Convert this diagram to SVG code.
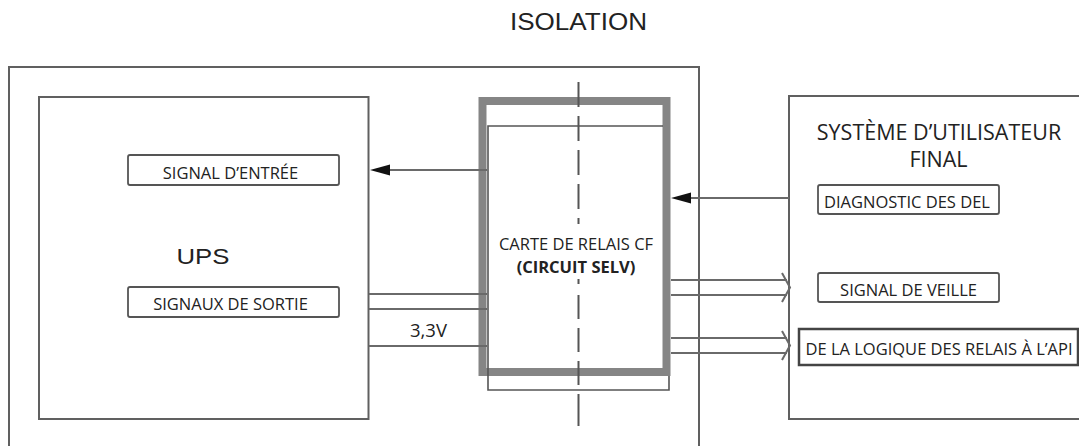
<svg xmlns="http://www.w3.org/2000/svg" width="1079" height="446" viewBox="0 0 1079 446">
<style>
.box{fill:none;stroke:#606060;stroke-width:2}
.lbl{fill:#fff;stroke:#555;stroke-width:1.8}
.t{font-family:"Open Sans","Noto Sans",sans-serif;font-size:16.5px;fill:#222;text-anchor:middle}
.big{font-size:21.5px}
.v{font-size:18.5px}
.b{font-weight:bold}
.a{font-family:"Liberation Sans",Arial,sans-serif;fill:#222}
.ln{stroke:#6a6a6a;stroke-width:2;fill:none}
.thin{stroke:#555;stroke-width:1.6;fill:none}
.head{fill:#111}
.dash{stroke:#555;stroke-width:2;fill:none}
</style>
<rect width="1079" height="446" fill="#fff"/>
<g id="isolation">
<rect class="box" x="9" y="67" width="690" height="400"/>
<text class="a" x="510" y="30" font-size="24" textLength="137" lengthAdjust="spacingAndGlyphs">ISOLATION</text>
</g>
<g id="ups">
<rect class="box" x="39" y="97" width="329.5" height="322"/>
<text class="a" x="176.5" y="264" font-size="22" textLength="53" lengthAdjust="spacingAndGlyphs">UPS</text>
</g>
<g id="signal-entree">
<rect class="lbl" x="128" y="155" width="211" height="30" rx="2"/>
<text class="t" x="230.5" y="179">SIGNAL D’ENTRÉE</text>
</g>
<g id="signaux-sortie">
<rect class="lbl" x="128" y="287" width="211" height="30" rx="2"/>
<text class="t" x="230.5" y="310">SIGNAUX DE SORTIE</text>
</g>
<g id="carte-relais">
<rect x="482.5" y="101" width="184" height="271" fill="#fff" stroke="#858585" stroke-width="8"/>
<path class="thin" d="M488,390 V126 H663 M488,376 V390 H669 V376"/>
<text class="t" x="576" y="250">CARTE DE RELAIS CF</text>
<text class="t b" x="576" y="273">(CIRCUIT SELV)</text>
</g>
<g id="systeme-utilisateur">
<rect class="box" x="789" y="96" width="300" height="323"/>
<text class="t big" x="939" y="140">SYSTÈME D’UTILISATEUR</text>
<text class="t big" x="938.5" y="167">FINAL</text>
</g>
<g id="diagnostic">
<rect class="lbl" x="818" y="185" width="181" height="29" rx="2"/>
<text class="t" x="907" y="208">DIAGNOSTIC DES DEL</text>
</g>
<g id="veille">
<rect class="lbl" x="818" y="273" width="181" height="29" rx="2"/>
<text class="t" x="908.5" y="296">SIGNAL DE VEILLE</text>
</g>
<g id="logique">
<rect x="799" y="329" width="279" height="36" fill="#fff" stroke="#444" stroke-width="2.5"/>
<text class="t" x="939" y="355">DE LA LOGIQUE DES RELAIS À L’API</text>
</g>
<g id="connectors">
<line class="ln" x1="487" y1="170" x2="388" y2="170"/>
<polygon class="head" points="370,170 390,164.5 390,175.5"/>
<line class="ln" x1="789" y1="198" x2="689" y2="198"/>
<polygon class="head" points="671,198 691,192.5 691,203.5"/>
<line class="ln" x1="369" y1="294" x2="487" y2="294"/>
<line class="ln" x1="369" y1="309" x2="487" y2="309"/>
<line class="ln" x1="369" y1="346" x2="487" y2="346"/>
<text class="t v" x="428.5" y="337">3,3V</text>
<line class="ln" x1="671" y1="280" x2="787" y2="280"/>
<line class="ln" x1="671" y1="295" x2="787" y2="295"/>
<polyline class="ln" points="782,273 790,287.5 782,302"/>
<line class="ln" x1="671" y1="338" x2="787" y2="338"/>
<line class="ln" x1="671" y1="353" x2="787" y2="353"/>
<polyline class="ln" points="782,331 790,345.5 782,360"/>
<line class="dash" x1="578.5" y1="82" x2="578.5" y2="224" stroke-dasharray="25 9"/>
<line class="dash" x1="578.5" y1="279" x2="578.5" y2="426" stroke-dasharray="5 11 24 9 24 9 24 9 37 9 24 9"/>
</g>
</svg>
